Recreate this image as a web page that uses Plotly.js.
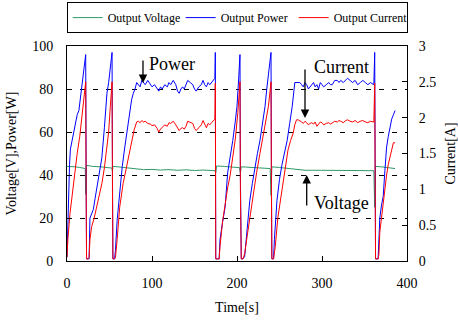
<!DOCTYPE html>
<html>
<head>
<meta charset="utf-8">
<script src="https://cdn.plot.ly/plotly-3.0.1.min.js"></script>
<style>html,body{margin:0;padding:0;background:#fff;}#chart{width:458px;height:320px;}</style>
</head>
<body>
<div id="chart"></div>
<script>
// Output Voltage [V]
const timeV = [0,5,10,15,20,21.5,22,23,26,30,40,50,53,53.5,54,60,70,80,90,100,110,120,130,140,150,160,170,174,175,176,185,195,203,204,205,210,220,230,239,240,241,250,260,270,280,300,320,340,361,362,363,370,380,386];
const voltage = [44,44,43.8,43.5,43.3,43,31,44.5,44.3,44,43.8,43.5,43.2,41.5,44,43.8,43.3,42.8,42.5,42.6,42.3,42.5,42.2,42.4,42.1,42.3,42.2,42,41,44.2,44,43.6,43.4,41,43.8,43.7,43.5,43.3,43,30.5,43.8,43.5,43,42.4,42.2,42.2,42.1,42.1,42,25,44,43.8,43.4,43];

// Output Power [W]
const timeP = [0,1,2,3,4,6,8,10,12,14,16,18,20,22,22.5,23,25,
  26,27,29,31,33,35,38,41,44,47,49,51,53,53.5,54,56,
  57,59,62,65,68,70,73,76,78,80,82,84,86,88,90,92,95,98,100,103,106,108,110,112,115,118,120,122,125,128,130,132,134,136,138,140,142,145,148,150,152,155,158,160,162,164,166,168,170,172,174,174.5,175,179,
  180,183,186,189,192,195,198,200,202,203.5,204,205,207,
  209,212,215,218,221,224,227,230,233,235,237,239,240,240.5,241,243,
  244,247,250,253,256,259,262,265,268,274,276,278,280,282,284,286,288,290,292,294,296,298,300,302,305,308,310,312,315,318,320,322,325,328,330,333,336,339,342,345,348,351,354,357,360,361,362,362.5,363,366,
  367,368,370,372,374,376,378,380,382,384,386];
const power = [2,20,35,45,52,56,60,64,68,70,76,82,90,96,40,1,1,
  1,20,22,24,29,34,40,48,62,78,83,90,97,40,1,1,
  5,19,32,44,53,59,67,75,78,80,83,82,81,84,83,82,84,82,81,82,80,79,81,80,82,81,83,82,84,82,79,78,80,81,80,82,84,83,82,80,79,81,82,84,82,81,83,82,83,84,85,97,1,1,
  10,18,25,41,48,56,65,72,85,96,40,1,1,
  2,15,28,36,44,50,56,64,72,80,87,93,97,40,1,1,
  10,28,38,45,51,56,64,72,83,83,82,81,83,82,80,81,82,83,81,82,80,83,82,81,82,83,82,82,84,84,83,84,83,84,85,84,83,84,82,83,84,83,82,83,82,82,97,40,1,1,
  8,20,26,30,42,53,58,62,66,68,70];

// Output Current [A]
const timeI = [0,1,3.5,6,9.5,12,15,17,19,21,22,22.5,23,25,
  26,27,29,32,35,38,41,44,47,49,51,53,53.5,54,56,
  57,59,62,66,70,73,76,79,82,84,86,88,90,92,95,98,100,103,106,108,110,112,115,118,120,122,125,128,130,132,134,136,138,140,142,145,148,150,152,155,158,160,162,164,166,168,170,172,174,174.5,175,179,
  180,183,186,189,192,195,198,201,203.5,204,205,207,
  209,212,215,219,223,227,231,234,237,239,240,240.5,241,243,
  245,248,251,254,257,260,263,266,268,270,272,274,276,278,280,282,284,286,288,290,292,294,296,298,300,302,305,308,310,312,315,318,320,322,325,328,330,333,336,339,342,345,348,351,354,357,360,361,362,362.5,363,366,
  367,368,370,372,374,376,378,380,382,384,386];
const current = [0.05,0.3,0.66,0.9,1.32,1.5,1.74,1.95,2.16,2.4,2.5,1.0,0.03,0.03,
  0.05,0.3,0.48,0.6,0.75,0.9,1.08,1.3,1.56,1.8,2.16,2.5,1.0,0.03,0.03,
  0.05,0.3,0.75,1.08,1.32,1.5,1.68,1.83,1.94,1.95,1.93,1.96,1.94,1.95,1.92,1.91,1.89,1.9,1.85,1.8,1.84,1.86,1.9,1.88,1.93,1.92,1.95,1.9,1.85,1.82,1.85,1.86,1.84,1.88,1.95,1.93,1.92,1.85,1.82,1.86,1.9,1.96,1.9,1.86,1.92,1.9,1.93,1.95,1.98,2.48,0.03,0.03,
  0.2,0.55,0.8,1.02,1.2,1.44,1.7,2.07,2.5,1.0,0.03,0.03,
  0.1,0.35,0.6,0.9,1.23,1.5,1.78,1.98,2.16,2.38,2.5,1.0,0.03,0.03,
  0.2,0.6,0.85,1.12,1.35,1.55,1.68,1.78,1.9,1.97,1.97,1.96,1.94,1.92,1.95,1.93,1.9,1.92,1.93,1.91,1.94,1.88,1.92,1.94,1.93,1.9,1.92,1.93,1.91,1.93,1.95,1.94,1.96,1.95,1.93,1.96,1.97,1.95,1.94,1.96,1.93,1.95,1.96,1.94,1.93,1.95,1.94,1.94,2.48,1.0,0.03,0.03,
  0.1,0.4,0.6,0.85,1.03,1.2,1.35,1.45,1.55,1.65,1.65];

const xTickVals = [0,100,200,300,400];
const yTickVals = [0,20,40,60,80,100];
const y2TickVals = [0,0.5,1,1.5,2,2.5,3];

const serif = 'Liberation Serif, Times New Roman, serif';

const traces = [
  {x: timeV, y: voltage, name: 'Output Voltage', type: 'scatter', mode: 'lines', line: {color: '#2f9a66', width: 1}, yaxis: 'y'},
  {x: timeP, y: power, name: 'Output Power', type: 'scatter', mode: 'lines', line: {color: '#0000ff', width: 1}, yaxis: 'y'},
  {x: timeI, y: current, name: 'Output Current', type: 'scatter', mode: 'lines', line: {color: '#ff0000', width: 1}, yaxis: 'y2'}
];

const layout = {
  width: 458, height: 320,
  margin: {l: 67, r: 51, t: 46, b: 59, pad: 0, autoexpand: false},
  paper_bgcolor: '#fff', plot_bgcolor: '#fff',
  font: {family: serif, size: 14, color: '#000'},
  showlegend: true,
  legend: {orientation: 'h', x: -0.001, xanchor: 'left', y: 1.06, yanchor: 'bottom',
    entrywidth: 68, entrywidthmode: 'pixels',
    bordercolor: '#000', borderwidth: 1, font: {family: serif, size: 12, color: '#000'},
    itemwidth: 30, traceorder: 'normal', tracegroupgap: 0},
  xaxis: {range: [0, 400], tickvals: xTickVals, ticks: 'inside', ticklen: 5, tickcolor: '#000',
    showline: true, linecolor: '#000', linewidth: 1, mirror: true, showgrid: false, zeroline: false,
    ticklabelstandoff: 9,
    title: {text: 'Time[s]', font: {family: serif, size: 14}, standoff: 12}},
  yaxis: {range: [0, 100], tickvals: yTickVals, ticks: 'inside', ticklen: 5, tickcolor: '#000',
    showline: true, linecolor: '#000', linewidth: 1, showgrid: true, gridcolor: '#000', gridwidth: 1,
    griddash: '5px,8px', zeroline: false, ticklabelstandoff: 10,
    title: {text: 'Voltage[V],Power[W]', font: {family: serif, size: 14}, standoff: 12}},
  yaxis2: {range: [0, 3], tickvals: y2TickVals, overlaying: 'y', side: 'right', ticks: 'inside', ticklen: 5,
    tickcolor: '#000', showline: true, linecolor: '#000', linewidth: 1, showgrid: false, zeroline: false,
    ticklabelstandoff: 8,
    title: {text: 'Current[A]', font: {family: serif, size: 14}, standoff: 11}},
  annotations: [
    {x: 89.4, y: 82.8, xref: 'x', yref: 'y', ax: 0, ay: -24, showarrow: true, arrowhead: 2, arrowsize: 1.3, arrowwidth: 1.3, arrowcolor: '#000', text: ''},
    {x: 123.5, y: 91.6, xref: 'x', yref: 'y', showarrow: false, text: 'Power', font: {family: serif, size: 18, color: '#000'}},
    {x: 280, y: 66.5, xref: 'x', yref: 'y', ax: 0, ay: -50, showarrow: true, arrowhead: 2, arrowsize: 1.3, arrowwidth: 1.3, arrowcolor: '#000', text: ''},
    {x: 323.5, y: 90.2, xref: 'x', yref: 'y', showarrow: false, text: 'Current', font: {family: serif, size: 18, color: '#000'}},
    {x: 282, y: 40, xref: 'x', yref: 'y', ax: 0, ay: 32, showarrow: true, arrowhead: 2, arrowsize: 1.3, arrowwidth: 1.3, arrowcolor: '#000', text: ''},
    {x: 323.5, y: 27, xref: 'x', yref: 'y', showarrow: false, text: 'Voltage', font: {family: serif, size: 18, color: '#000'}}
  ]
};

Plotly.newPlot('chart', traces, layout, {displayModeBar: false, staticPlot: true});
</script>
</body>
</html>
